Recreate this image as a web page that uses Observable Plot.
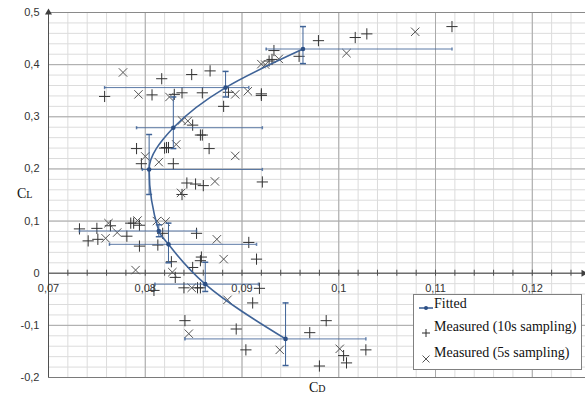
<!DOCTYPE html>
<html><head><meta charset="utf-8">
<script src="https://cdn.jsdelivr.net/npm/d3@7"></script>
<script src="https://cdn.jsdelivr.net/npm/@observablehq/plot@0.6"></script>
<style>
body{margin:0;background:#fff;}
#wrap{position:relative;width:585px;height:394px;overflow:hidden;font-family:"Liberation Sans",Arial,sans-serif;}
.serif{font-family:"Liberation Serif","Times New Roman",serif;color:#111;}
.abs{position:absolute;white-space:nowrap;}
#legend{position:absolute;left:413px;top:294px;width:169px;height:76px;border:1px solid #808080;background:#fff;box-sizing:border-box;}
</style></head>
<body>
<div id="wrap"></div>
<script>
// ---- data ----
const fitCD   = [0.0945, 0.0862, 0.0824, 0.0814, 0.0804, 0.0829, 0.0883, 0.0963];
const fitCL   = [-0.126, -0.021, 0.0554, 0.081, 0.199, 0.279, 0.356, 0.430];
const fitCDlo = [0.0841, 0.0810, 0.0763, 0.0732, 0.0797, 0.0791, 0.0758, 0.0925];
const fitCDhi = [0.1028, 0.0917, 0.0915, 0.0853, 0.0921, 0.0921, 0.0907, 0.1117];
const fitCLlo = [-0.177, -0.035, 0.020, 0.070, 0.151, 0.239, 0.338, 0.402];
const fitCLhi = [-0.057, 0.021, 0.096, 0.093, 0.266, 0.338, 0.387, 0.473];

const cd10 = [0.0817,0.0848,0.0867,0.0758,0.0807,0.0830,0.0838,0.0859,0.0886,0.0920,0.0920,0.0881,0.0928,0.0931,0.0933,0.0959,0.0979,0.1017,0.1029,0.1117,
  0.0849,0.0857,0.0859,0.0791,0.0820,0.0822,0.0824,0.0796,0.0829,0.0866,0.0843,0.0852,0.0860,0.0838,0.0921,
  0.0732,0.0750,0.0764,0.0781,0.0741,0.0751,0.0785,0.0788,0.0794,0.0818,0.0794,0.0813,0.0827,0.0831,0.0853,0.0907,0.0858,0.0857,0.0915,0.0849,
  0.0809,0.0840,0.0854,0.0857,0.0918,0.0911,0.0841,0.0894,0.0904,0.0970,0.0980,0.0987,0.1005,0.1008,0.1028];
const cl10 = [0.373,0.381,0.388,0.339,0.342,0.343,0.346,0.346,0.347,0.344,0.341,0.320,0.407,0.410,0.427,0.416,0.446,0.452,0.459,0.473,
  0.284,0.265,0.265,0.239,0.240,0.241,0.241,0.210,0.210,0.239,0.173,0.171,0.168,0.151,0.175,
  0.085,0.086,0.091,0.071,0.062,0.065,0.096,0.096,0.092,0.0765,0.052,0.054,0.022,-0.008,0.0765,0.059,0.031,0.024,0.027,0.011,
  -0.033,-0.028,-0.028,-0.028,-0.029,-0.057,-0.091,-0.107,-0.147,-0.114,-0.178,-0.091,-0.158,-0.172,-0.147];

const cd5 = [0.0777,0.0793,0.0825,0.0893,0.0906,0.0920,0.0924,0.0938,0.1008,0.1079,0.0838,0.0844,0.0832,0.0800,0.0814,0.0893,0.0872,0.0837,
  0.0762,0.0771,0.0759,0.0792,0.0812,0.0821,0.0790,0.0828,0.0874,0.0881,0.0848,0.0885,0.0845,0.0939,0.1001];
const cl5 = [0.385,0.343,0.338,0.343,0.349,0.401,0.400,0.411,0.422,0.463,0.293,0.292,0.247,0.224,0.213,0.225,0.176,0.154,
  0.096,0.078,0.067,0.101,0.100,0.099,0.006,0.002,0.065,0.027,-0.028,-0.051,-0.116,-0.147,-0.145];

const xTickVals   = [0.07, 0.08, 0.09, 0.10, 0.11, 0.12];
const xTickLabels = ["0,07","0,08","0,09","0,1","0,11","0,12"];
const yTickVals   = [-0.2,-0.1,0,0.1,0.2,0.3,0.4,0.5];
const yTickLabels = ["-0,2","-0,1","0","0,1","0,2","0,3","0,4","0,5"];
const xDomain = [0.07, 0.1255];
const yDomain = [-0.2, 0.5];

// ---- derived tables ----
const fit = fitCD.map((d,i)=>({cd:d, cl:fitCL[i], cdLo:fitCDlo[i], cdHi:fitCDhi[i], clLo:fitCLlo[i], clHi:fitCLhi[i]}));
const m10 = cd10.map((d,i)=>({cd:d, cl:cl10[i]}));
const m5  = cd5.map((d,i)=>({cd:d, cl:cl5[i]}));
const xMinor = d3.range(0.072, 0.1252, 0.002);
const yMinor = d3.range(-0.18, 0.5, 0.02);

const capH = {draw(ctx, size){ const r = Math.sqrt(size/Math.PI); ctx.moveTo(-r,0); ctx.lineTo(r,0);} };
const capV = {draw(ctx, size){ const r = Math.sqrt(size/Math.PI); ctx.moveTo(0,-r); ctx.lineTo(0,r);} };

const blue = "#3f6397";

const chart = Plot.plot({
  width:585, height:394, marginLeft:48, marginRight:0, marginTop:12, marginBottom:17,
  x:{domain:xDomain, axis:null},
  y:{domain:yDomain, axis:null},
  style:{background:"transparent", fontFamily:"'Liberation Sans', Arial, sans-serif", overflow:"visible"},
  marks:[
    Plot.ruleX(xMinor, {stroke:"#dcdcdc", strokeWidth:1}),
    Plot.ruleY(yMinor, {stroke:"#dcdcdc", strokeWidth:1}),
    Plot.ruleX(xTickVals.slice(1), {stroke:"#a9a9a9", strokeWidth:1}),
    Plot.ruleY(yTickVals.slice(1,-1), {stroke:"#a9a9a9", strokeWidth:1}),
    Plot.ruleY([yDomain[1]], {stroke:"#8a8a8a"}),
    Plot.ruleY([yDomain[0]], {stroke:"#7a7a7a"}),
    Plot.ruleX([xDomain[0]], {stroke:"#505050"}),
    Plot.ruleY([0], {stroke:"#505050"}),
    Plot.ruleX(xMinor, {y1:()=>0, y2:()=>0, insetTop:-3, insetBottom:-3, stroke:"#505050"}),
    Plot.dot([0], {x:()=>xDomain[0], y:()=>yDomain[1], symbol:"triangle", r:2.6, fill:"#404040", stroke:null}),
    Plot.dot([0], {x:()=>xDomain[1], y:()=>0, dx:-2, symbol:"triangle", r:2.6, rotate:90, fill:"#404040", stroke:null}),
    Plot.text(xTickVals, {x:d=>d, y:()=>0, text:(d,i)=>xTickLabels[i], dy:15, fontSize:11, fill:"#333"}),
    Plot.text(yTickVals, {x:()=>xDomain[0], y:d=>d, text:(d,i)=>yTickLabels[i], textAnchor:"end", dx:-9, fontSize:11, fill:"#333"}),
    // measured points
    Plot.dot(m10, {x:"cd", y:"cl", symbol:"plus", r:3.7, stroke:"#333", strokeWidth:1}),
    Plot.dot(m5, {x:"cd", y:"cl", symbol:"times", r:3.9, stroke:"#555", strokeWidth:1}),
    // error bars
    Plot.ruleY(fit, {y:"cl", x1:"cdLo", x2:"cdHi", stroke:blue, strokeWidth:1, strokeOpacity:0.85}),
    Plot.dot(fit, {x:"cdLo", y:"cl", symbol:capV, r:1.6, stroke:blue, strokeOpacity:0.8}),
    Plot.dot(fit, {x:"cdHi", y:"cl", symbol:capV, r:1.6, stroke:blue, strokeOpacity:0.8}),
    Plot.ruleX(fit, {x:"cd", y1:"clLo", y2:"clHi", stroke:blue, strokeWidth:1}),
    Plot.dot(fit, {x:"cd", y:"clLo", symbol:capH, r:3, stroke:blue}),
    Plot.dot(fit, {x:"cd", y:"clHi", symbol:capH, r:3, stroke:blue}),
    // fitted curve
    Plot.line(fit, {x:"cd", y:"cl", curve:"monotone-y", stroke:blue, strokeWidth:1.6}),
    Plot.dot(fit, {x:"cd", y:"cl", r:2.3, fill:"#2c4f85", stroke:null})
  ]
});

const wrap = document.getElementById("wrap");
wrap.appendChild(chart);

function add(html, style, cls){ const e=document.createElement("div"); e.className="abs "+(cls||""); e.innerHTML=html; Object.assign(e.style, style); wrap.appendChild(e); return e; }

// axis titles
add('C<span style="font-size:10px">L</span>', {left:"17px", top:"186px", fontSize:"14px", lineHeight:"16px"}, "serif");
add('C<span style="font-size:10px">D</span>', {left:"309px", top:"380px", fontSize:"14px", lineHeight:"16px"}, "serif");

// legend
const lg = document.createElement("div"); lg.id="legend"; wrap.appendChild(lg);
const legendItems = ["Fitted","Measured (10s sampling)","Measured (5s sampling)"];
const legSym = [
 `<svg width="16" height="10"><line x1="1" y1="5" x2="15" y2="5" stroke="${blue}" stroke-width="1.6"/><circle cx="8" cy="5" r="2" fill="#2c4f85"/></svg>`,
 `<svg width="12" height="12"><path d="M2,6H10M6,2V10" stroke="#2a2a2a" stroke-width="1" fill="none"/></svg>`,
 `<svg width="12" height="12"><path d="M2.5,2.5L9.5,9.5M9.5,2.5L2.5,9.5" stroke="#555" stroke-width="1" fill="none"/></svg>`
];
const symPos = [[4,8],[6,32],[6,58]];
const txtTop = [1,24,50];
legendItems.forEach((t,i)=>{
  const s=document.createElement("div"); s.className="abs"; s.style.left=symPos[i][0]+"px"; s.style.top=symPos[i][1]+"px"; s.style.lineHeight="0"; s.innerHTML=legSym[i]; lg.appendChild(s);
  const tx=document.createElement("div"); tx.className="abs serif"; tx.style.left="20px"; tx.style.top=txtTop[i]+"px"; tx.style.fontSize="14px"; tx.style.lineHeight="16px"; tx.textContent=t; lg.appendChild(tx);
});
</script>
</body></html>
